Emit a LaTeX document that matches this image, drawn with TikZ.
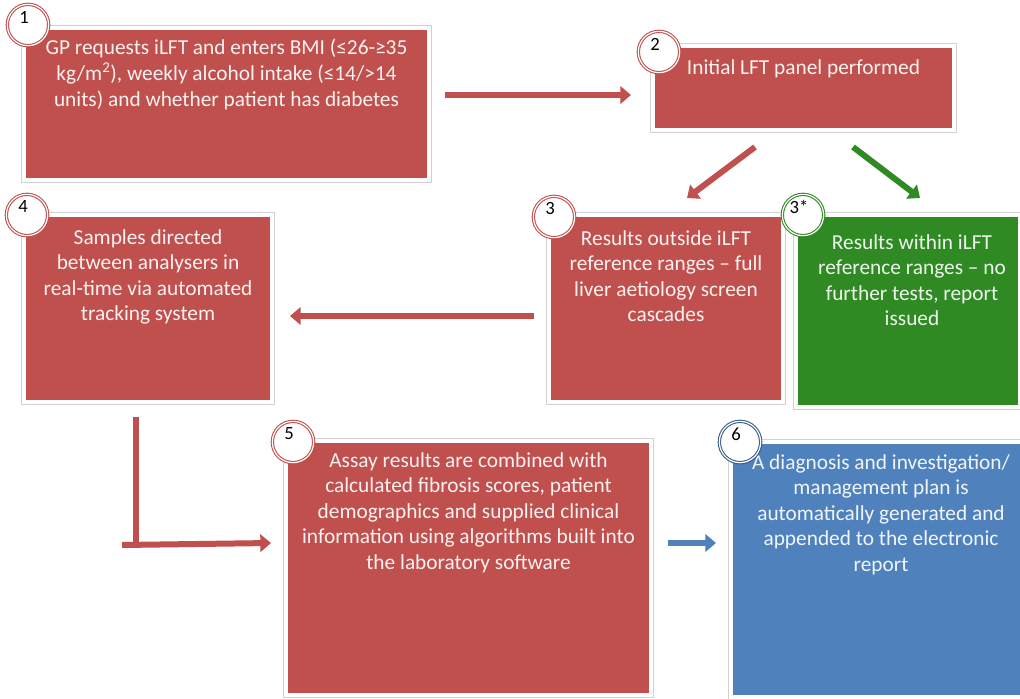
\documentclass[tikz,border=0pt]{standalone}
\usepackage{fontspec}
\setmainfont{Carlito}
\usetikzlibrary{arrows.meta,calc,shadows}
\definecolor{boxred}{RGB}{192,80,77}
\definecolor{boxgreen}{RGB}{47,138,36}
\definecolor{boxblue}{RGB}{79,129,189}
\definecolor{ringblue}{RGB}{56,93,138}

\tikzset{
  box/.style={rectangle, draw=white, line width=3pt, inner sep=0pt,
    preaction={draw=black!18, line width=4pt},
    drop shadow={opacity=0.35, shadow xshift=1pt, shadow yshift=-1.8pt}},
  boxtxt/.style={anchor=north, align=center, text=white, text opacity=0.92,
    inner sep=0pt, font=\fontsize{16}{19.2}\selectfont},
  ring/.style={circle, fill=white, draw=#1, line width=0.8pt, double=white,
    double distance=0.9pt, minimum size=31pt, inner sep=0pt,
    drop shadow={opacity=0.25, shadow xshift=0.6pt, shadow yshift=-0.8pt}},
  numtxt/.style={inner sep=0pt, font=\fontsize{14}{16}\selectfont},
  redarr/.style={draw=boxred, line width=4.5pt, -{Triangle[width=13pt,length=8pt]}},
  redline/.style={draw=boxred, line width=4.5pt},
  greenarr/.style={draw=boxgreen, line width=4.5pt, -{Triangle[width=13pt,length=8pt]}},
  bluearr/.style={draw=boxblue, line width=4.5pt, -{Triangle[width=13pt,length=8pt]}}
}

\begin{document}
\begin{tikzpicture}[x=0.75pt, y=-0.75pt]
  \useasboundingbox[fill=white] (0,0) rectangle (1020,699);

  % boxes
  \node[box, fill=boxred, minimum width=303.75pt, minimum height=114pt] (b1) at (226.5,104) {};
  \node[box, fill=boxred, minimum width=225.75pt, minimum height=63pt] (b2) at (803.5,88) {};
  \node[box, fill=boxred, minimum width=175.5pt, minimum height=140.25pt] (b3) at (666,308.5) {};
  \node[box, fill=boxgreen, minimum width=168pt, minimum height=144pt] (b3s) at (908,311) {};
  \node[box, fill=boxred, minimum width=186pt, minimum height=140.25pt] (b4) at (148,308.5) {};
  \node[box, fill=boxred, minimum width=273.75pt, minimum height=190.5pt] (b5) at (468.5,568) {};
  \node[box, fill=boxblue, minimum width=225pt, minimum height=191.25pt] (b6) at (881,569.5) {};

  % texts
  \node[boxtxt] (t1) at ($(b1.north)+(0,13)$) {GP requests iLFT and enters BMI (≤26-≥35\\
    kg/m\textsuperscript{2}), weekly alcohol intake (≤14/>14\\ units) and whether patient has diabetes};
  \node[boxtxt] (t2) at ($(b2.north)+(0,15)$) {Initial LFT panel performed};
  \node[boxtxt] (t3) at ($(b3.north)+(0,17)$) {Results outside iLFT\\ reference ranges -- full\\
    liver aetiology screen\\ cascades};
  \node[boxtxt] (t3s) at ($(b3s.north)+(4,21)$) {Results within iLFT\\ reference ranges -- no\\
    further tests, report\\ issued};
  \node[boxtxt] (t4) at ($(b4.north)+(0,16)$) {Samples directed\\ between analysers in\\
    real-time via automated\\ tracking system};
  \node[boxtxt] (t5) at ($(b5.north)+(0,13)$) {Assay results are combined with\\
    calculated fibrosis scores, patient\\ demographics and supplied clinical\\
    information using algorithms built into\\ the laboratory software};
  \node[boxtxt] (t6) at ($(b6.north)+(0,14)$) {A diagnosis and investigation/\\
    management plan is\\ automatically generated and\\ appended to the electronic\\ report};

  % connectors
  \draw[redarr] ($(b1.east)+(14,-9)$) -- ($(b2.west)+(-20,7)$);
  \draw[redarr] ($(b2.south)+(-48.5,15)$) -- ($(b3.north)+(21,-15)$);
  \draw[greenarr] ($(b2.south)+(49.5,15)$) -- ($(b3s.north)+(12,-15)$);
  \draw[redarr] ($(b3.west)+(-13,7.5)$) -- ($(b4.east)+(16,7.5)$);
  \coordinate (elbow) at ($(b4.south)+(-12,141)$);
  \draw[redline] ($(b4.south)+(-12,13)$) -- (elbow);
  \draw[redarr] ($(elbow)+(-14,0)$) -- ($(b5.west)+(-13,-25)$);
  \draw[bluearr] ($(b5.east)+(15,-25)$) -- ($(b6.west)+(-13,-26.5)$);

  % step numbers
  \node[ring=boxred] (c1) at (28,25) {};
  \node[ring=boxred] (c2) at (659,52) {};
  \node[ring=boxred] (c3) at (554,217) {};
  \node[ring=boxgreen] (c3s) at (803,215) {};
  \node[ring=boxred] (c4) at (27,215) {};
  \node[ring=boxred] (c5) at (293,442) {};
  \node[ring=ringblue] (c6) at (740,442) {};
  \foreach \c/\n in {c1/1, c2/2, c3/3, c3s/3*, c4/4, c5/5, c6/6}
    \node[numtxt] at ($(\c)+(-4,-8)$) {\n};
\end{tikzpicture}
\end{document}
